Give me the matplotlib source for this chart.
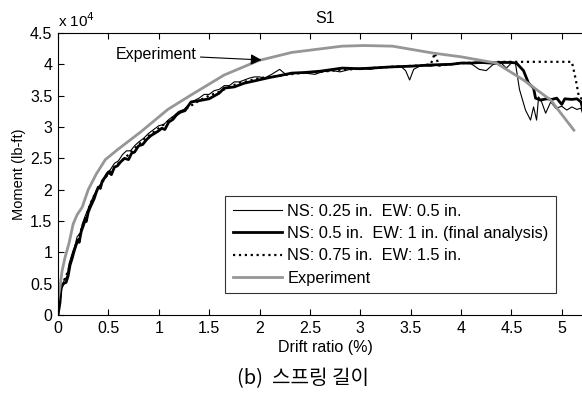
import matplotlib
matplotlib.use('Agg')
import matplotlib.pyplot as plt

# drift ratio (%) and moment (x 1e4 lb-ft)
exp_x = [0.00, 0.02, 0.04, 0.07, 0.11, 0.15, 0.19, 0.24, 0.30, 0.38, 0.47, 0.60, 0.82,
         1.09, 1.32, 1.65, 1.99, 2.32, 2.82, 3.04, 3.32, 3.72, 4.00, 4.35, 4.62, 4.89, 5.12]
exp_y = [0.25, 0.45, 0.70, 0.92, 1.15, 1.45, 1.60, 1.72, 2.00, 2.25, 2.48, 2.65, 2.92,
         3.28, 3.51, 3.83, 4.06, 4.19, 4.29, 4.30, 4.29, 4.18, 4.12, 4.02, 3.75, 3.43, 2.95]

# NS 0.25 in, EW 0.5 in
thin_x = [0.00, 0.02, 0.04, 0.06, 0.09, 0.11, 0.14, 0.17, 0.19, 0.22, 0.24, 0.27, 0.30,
          0.33, 0.36, 0.39, 0.42, 0.45, 0.48, 0.52, 0.56, 0.60, 0.64, 0.68, 0.72, 0.76,
          0.80, 0.85, 0.90, 0.95, 1.00, 1.05, 1.10, 1.15, 1.20, 1.25, 1.30, 1.35, 1.40,
          1.45, 1.50, 1.55, 1.60, 1.65, 1.70, 1.75, 1.80, 1.85, 1.90, 1.95, 2.00, 2.05,
          2.12, 2.20, 2.26, 2.35, 2.45, 2.55, 2.62, 2.72, 2.80, 2.90, 3.00, 3.10, 3.20,
          3.30, 3.40, 3.45, 3.49, 3.53, 3.60, 3.70, 3.80, 3.90, 4.00, 4.10, 4.18, 4.25,
          4.32, 4.40, 4.45, 4.50, 4.54, 4.58, 4.64, 4.69, 4.72, 4.75, 4.77, 4.80, 4.84,
          4.89, 4.94, 5.00, 5.05, 5.10, 5.15, 5.19, 5.22]
thin_y = [0.00, 0.25, 0.45, 0.55, 0.62, 0.82, 0.98, 1.12, 1.25, 1.30, 1.45, 1.58, 1.70,
          1.82, 1.92, 2.02, 2.08, 2.18, 2.26, 2.32, 2.42, 2.46, 2.56, 2.62, 2.62, 2.70,
          2.76, 2.82, 2.90, 2.96, 3.02, 3.04, 3.12, 3.18, 3.25, 3.28, 3.36, 3.42, 3.46,
          3.52, 3.52, 3.58, 3.60, 3.66, 3.66, 3.72, 3.72, 3.75, 3.78, 3.80, 3.80, 3.78,
          3.84, 3.92, 3.84, 3.86, 3.86, 3.84, 3.88, 3.90, 3.88, 3.92, 3.94, 3.92, 3.95,
          3.96, 3.97, 3.90, 3.75, 3.92, 3.98, 3.97, 4.00, 4.00, 4.02, 4.01, 3.92, 3.90,
          4.00, 4.02, 3.94, 4.02, 4.02, 3.60, 3.27, 3.11, 3.32, 3.11, 3.48, 3.40, 3.22,
          3.40, 3.30, 3.33, 3.27, 3.32, 3.28, 3.30, 3.15]

# NS 0.5 in, EW 1 in (final analysis)
thick_x = [0.00, 0.02, 0.03, 0.05, 0.08, 0.10, 0.12, 0.14, 0.16, 0.18, 0.20, 0.21, 0.23,
           0.25, 0.27, 0.28, 0.30, 0.32, 0.34, 0.36, 0.38, 0.40, 0.42, 0.44, 0.47, 0.50,
           0.53, 0.56, 0.59, 0.62, 0.66, 0.70, 0.73, 0.76, 0.80, 0.84, 0.88, 0.92, 0.96,
           1.00, 1.03, 1.06, 1.10, 1.14, 1.18, 1.22, 1.26, 1.32, 1.40, 1.50, 1.60, 1.65,
           1.75, 1.85, 1.99, 2.10, 2.20, 2.32, 2.45, 2.60, 2.82, 3.00, 3.32, 3.50, 3.70,
           3.90, 4.00, 4.10, 4.20, 4.30, 4.40, 4.50, 4.55, 4.62, 4.67, 4.72, 4.74, 4.79,
           4.85, 4.90, 4.95, 5.00, 5.03, 5.10, 5.15, 5.19, 5.22]
thick_y = [0.00, 0.20, 0.42, 0.50, 0.52, 0.62, 0.80, 0.90, 1.02, 1.12, 1.20, 1.16, 1.33,
           1.42, 1.52, 1.49, 1.64, 1.72, 1.79, 1.86, 1.96, 2.04, 2.02, 2.14, 2.20, 2.28,
           2.24, 2.36, 2.38, 2.44, 2.50, 2.48, 2.58, 2.60, 2.70, 2.72, 2.80, 2.86, 2.90,
           2.94, 2.98, 2.96, 3.08, 3.12, 3.20, 3.24, 3.26, 3.40, 3.42, 3.45, 3.54, 3.62,
           3.64, 3.70, 3.75, 3.79, 3.82, 3.86, 3.87, 3.89, 3.94, 3.93, 3.96, 3.97, 3.99,
           4.00, 4.02, 4.02, 4.03, 4.02, 4.03, 4.03, 4.02, 3.90, 3.70, 3.62, 3.46, 3.43,
           3.45, 3.44, 3.46, 3.36, 3.45, 3.44, 3.45, 3.40, 3.22]

# NS 0.75 in, EW 1.5 in
dot_x = [0.00, 0.03, 0.06, 0.10, 0.15, 0.20, 0.25, 0.30, 0.35, 0.40, 0.50, 0.60, 0.70,
         0.80, 0.90, 1.00, 1.10, 1.20, 1.30, 1.40, 1.50, 1.60, 1.70, 1.80, 1.90, 2.00,
         2.20, 2.40, 2.60, 2.80, 3.00, 3.20, 3.40, 3.60, 3.70, 3.74, 3.78, 3.90, 4.00,
         4.20, 4.40, 4.60, 4.80, 5.00, 5.10, 5.14, 5.17, 5.22]
dot_y = [0.00, 0.40, 0.55, 0.70, 0.98, 1.22, 1.45, 1.68, 1.88, 2.02, 2.26, 2.42, 2.56,
         2.72, 2.86, 2.98, 3.10, 3.22, 3.32, 3.42, 3.50, 3.56, 3.64, 3.70, 3.74, 3.78,
         3.82, 3.86, 3.88, 3.91, 3.93, 3.95, 3.97, 3.98, 4.00, 4.18, 3.98, 4.00, 4.02,
         4.03, 4.04, 4.04, 4.04, 4.04, 4.04, 3.75, 3.48, 3.43]

labels = ['NS: 0.25 in.  EW: 0.5 in.',
          'NS: 0.5 in.  EW: 1 in. (final analysis)',
          'NS: 0.75 in.  EW: 1.5 in.',
          'Experiment']
x_ticks = [0, 0.5, 1, 1.5, 2, 2.5, 3, 3.5, 4, 4.5, 5]
y_ticks = [0, 0.5, 1, 1.5, 2, 2.5, 3, 3.5, 4, 4.5]

plt.rcParams['font.family'] = ['Liberation Sans', 'DejaVu Sans']
plt.rcParams['font.size'] = 10

fig = plt.figure(figsize=(5.82, 3.94), dpi=100)
ax = fig.add_axes([58 / 582, 79 / 394, 534 / 582, 282 / 394])

gray = '#969696'
ax.plot(thin_x, thin_y, color='k', lw=0.8, label=labels[0])
ax.plot(thick_x, thick_y, color='k', lw=2.0, label=labels[1])
ax.plot(dot_x, dot_y, color='k', lw=1.6, ls=':', label=labels[2])
ax.plot(exp_x, exp_y, color=gray, lw=2.0, label=labels[3])

ax.set_xlim(0, 5.3)
ax.set_ylim(0, 4.5)
ax.set_xticks(x_ticks)
ax.set_xticklabels([f'{t:g}' for t in x_ticks])
ax.set_yticks(y_ticks)
ax.set_yticklabels([f'{t:g}' for t in y_ticks])
ax.tick_params(direction='in', top=True, right=True, length=4, width=0.8, labelsize=11.5, pad=4)
for sp in ax.spines.values():
    sp.set_linewidth(0.8)

ax.set_xlabel('Drift ratio (%)', fontsize=11.5, labelpad=3)
ax.set_ylabel('Moment (lb-ft)', fontsize=10.5, labelpad=3)
ax.set_title('S1', fontsize=11.5, pad=7)
ax.text(0.0, 1.012, r'x 10$^{4}$', transform=ax.transAxes, fontsize=11, ha='left', va='bottom')

ax.annotate('Experiment', xy=(2.02, 4.07), xytext=(0.57, 4.15),
            fontsize=11.5, va='center', ha='left',
            arrowprops=dict(arrowstyle='-|>', color='k', lw=0.8, mutation_scale=16,
                            shrinkA=1, shrinkB=0))

leg = ax.legend(loc='lower left', bbox_to_anchor=(0.313, 0.078), borderaxespad=0,
                fancybox=False, frameon=True, edgecolor='k', fontsize=11.8,
                handlelength=3.0, labelspacing=0.45, handletextpad=0.35,
                borderpad=0.45)
leg.get_frame().set_linewidth(0.8)

fig.text(0.52, 0.04, '(b)  스프링 길이', ha='center', va='center', fontsize=14.5,
         family=['Noto Sans CJK KR', 'DejaVu Sans'])

fig.savefig('out.png', dpi=100)
